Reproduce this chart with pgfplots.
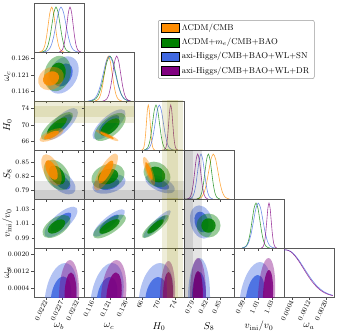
\documentclass[border=0pt]{standalone}
\usepackage{pgfplots}
\pgfplotsset{compat=1.18}
\definecolor{cor}{RGB}{255,140,0}
\definecolor{cgr}{RGB}{0,128,0}
\definecolor{cbl}{RGB}{65,105,225}
\definecolor{cpu}{RGB}{128,0,128}

\pgfplotsset{
  panel/.style={scale only axis, width=50pt, height=49pt, anchor=north west,
    scaled x ticks=false, scaled y ticks=false,
    axis line style={black!65, line width=0.5pt},
    xtick pos=bottom, ytick pos=left, tick align=outside, major tick length=2.5pt,
    tick style={black!70, line width=0.4pt},
    tick label style={font=\fontsize{6.8}{8}\selectfont},
    xticklabels={}, yticklabels={},
    xticklabel style={rotate=65, anchor=east, inner sep=1.5pt},
    yticklabel style={inner sep=2pt},
    label style={font=\fontsize{9.5}{11}\selectfont},
    every axis y label/.style={at={(axis description cs:-0.53,0.5)}, rotate=90, anchor=center},
    every axis x label/.style={at={(axis description cs:0.5,-0.6)}, anchor=center}},
  outer/.style={fill=#1, fill opacity=0.4, draw=none, smooth, tension=1},
  inner/.style={fill=#1, fill opacity=0.88, draw=none, smooth, tension=1},
  pdf/.style={draw=#1, line width=0.6pt, smooth, draw opacity=0.75},
  bando/.style={fill=olive, fill opacity=0.15, draw=none},
  bandg/.style={fill=black, fill opacity=0.1, draw=none},
  pdfy/.style={ymin=0, ymax=1.09, ytick=\empty},
  xv1/.style={xmin=0.0218, xmax=0.0234, xtick={0.0222,0.0227,0.0232}},
  xv2/.style={xmin=0.1132, xmax=0.1282, xtick={0.116,0.121,0.126}},
  xv3/.style={xmin=64, xmax=76, xtick={66,70,74}},
  xv4/.style={xmin=0.77, xmax=0.88, xtick={0.79,0.82,0.85}},
  xv5/.style={xmin=0.976, xmax=1.046, xtick={0.99,1.01,1.03}},
  xv6/.style={xmin=0, xmax=0.00235, xtick={0.0004,0.0012,0.0020}},
  yv2/.style={ymin=0.1132, ymax=0.1279, ytick={0.116,0.121,0.126}},
  yv3/.style={ymin=64, ymax=75.76, ytick={66,70,74}},
  yv4/.style={ymin=0.77, ymax=0.8778, ytick={0.79,0.82,0.85}},
  yv5/.style={ymin=0.976, ymax=1.0446, ytick={0.99,1.01,1.03}},
  yv6/.style={ymin=0, ymax=0.002303, ytick={0.0004,0.0012,0.0020}},
  xl1/.style={xticklabels={0.0222,0.0227,0.0232}, xlabel={$\omega_b$}},
  xl2/.style={xticklabels={0.116,0.121,0.126}, xlabel={$\omega_c$}},
  xl3/.style={xticklabels={66,70,74}, xlabel={$H_0$}},
  xl4/.style={xticklabels={0.79,0.82,0.85}, xlabel={$S_8$}},
  xl5/.style={xticklabels={0.99,1.01,1.03}, xlabel={$v_{\mathrm{ini}}/v_0$}},
  xl6/.style={xticklabels={0.0004,0.0012,0.0020}, xlabel={$\omega_a$}},
  yl2/.style={yticklabels={0.116,0.121,0.126}, ylabel={$\omega_c$}},
  yl3/.style={yticklabels={66,70,74}, ylabel={$H_0$}},
  yl4/.style={yticklabels={0.79,0.82,0.85}, ylabel={$S_8$}},
  yl5/.style={yticklabels={0.99,1.01,1.03}, ylabel={$v_{\mathrm{ini}}/v_0$}},
  yl6/.style={yticklabels={0.0004,0.0012,0.0020}, ylabel={$\omega_a$}},
}

\begin{document}
\begin{tikzpicture}
% ---------- row 1 : omega_b
\begin{axis}[panel, at={(0pt,0pt)}, xv1, pdfy,
  legend style={at={(axis description cs:2.48,0.653)}, anchor=north west,
    draw=black!40, line width=0.5pt, rounded corners=2pt, fill=white,
    font=\fontsize{8.5}{10}\selectfont, inner xsep=3pt, inner ysep=2pt, row sep=2.3pt,
    /tikz/every even column/.append style={column sep=6pt}},
  legend cell align=left,
  legend image code/.code={\fill[#1, sharp corners] (0pt,-4.5pt) rectangle (18pt,4.5pt);}]
\addplot[pdf=cor, forget plot] coordinates {(0.021974,0.0022)(0.022030,0.0111)(0.022086,0.0439)(0.022142,0.1353)(0.022198,0.3247)(0.022254,0.6065)(0.022310,0.8825)(0.022366,1)(0.022422,0.8825)(0.022478,0.6065)(0.022534,0.3247)(0.022590,0.1353)(0.022646,0.0439)(0.022702,0.0111)(0.022758,0.0022)};
\addplot[pdf=cgr, forget plot] coordinates {(0.022046,0.0022)(0.022111,0.0111)(0.022177,0.0439)(0.022242,0.1353)(0.022308,0.3247)(0.022373,0.6065)(0.022439,0.8825)(0.022504,1)(0.022570,0.8825)(0.022635,0.6065)(0.022701,0.3247)(0.022766,0.1353)(0.022832,0.0439)(0.022897,0.0111)(0.022963,0.0022)};
\addplot[pdf=cbl, forget plot] coordinates {(0.022104,0.0022)(0.022184,0.0111)(0.022264,0.0439)(0.022344,0.1353)(0.022424,0.3247)(0.022504,0.6065)(0.022584,0.8825)(0.022664,1)(0.022744,0.8825)(0.022824,0.6065)(0.022904,0.3247)(0.022984,0.1353)(0.023064,0.0439)(0.023144,0.0111)(0.023224,0.0022)};
\addplot[pdf=cpu, forget plot] coordinates {(0.022602,0.0022)(0.022652,0.0111)(0.022702,0.0439)(0.022752,0.1353)(0.022802,0.3247)(0.022852,0.6065)(0.022902,0.8825)(0.022952,1)(0.023002,0.8825)(0.023052,0.6065)(0.023102,0.3247)(0.023152,0.1353)(0.023202,0.0439)(0.023252,0.0111)(0.023302,0.0022)};
\addlegendimage{fill=cor}
\addlegendentry{$\Lambda$CDM/CMB}
\addlegendimage{fill=cgr}
\addlegendentry{$\Lambda$CDM+$m_e$/CMB+BAO}
\addlegendimage{fill=cbl}
\addlegendentry{axi-Higgs/CMB+BAO+WL+SN}
\addlegendimage{fill=cpu}
\addlegendentry{axi-Higgs/CMB+BAO+WL+DR}
\end{axis}

% ---------- row 2 : omega_c
\begin{axis}[panel, at={(0pt,-49pt)}, xv1, yv2, yl2]
\addplot[outer=cbl] coordinates {(0.023208,0.1210)(0.022879,0.12660)(0.022248,0.1210)(0.022577,0.11540)(0.023208,0.1210)(0.022879,0.12660)(0.022248,0.1210)};
\addplot[inner=cbl] coordinates {(0.023025,0.1210)(0.022822,0.12447)(0.022431,0.1210)(0.022634,0.11753)(0.023025,0.1210)(0.022822,0.12447)(0.022431,0.1210)};
\addplot[outer=cgr] coordinates {(0.022975,0.12145)(0.022622,0.12676)(0.022129,0.12145)(0.022482,0.11614)(0.022975,0.12145)(0.022622,0.12676)(0.022129,0.12145)};
\addplot[inner=cgr] coordinates {(0.022814,0.12145)(0.022596,0.12474)(0.02229,0.12145)(0.022508,0.11816)(0.022814,0.12145)(0.022596,0.12474)(0.02229,0.12145)};
\addplot[outer=cor] coordinates {(0.022751,0.11995)(0.022417,0.12345)(0.021937,0.11995)(0.022271,0.11645)(0.022751,0.11995)(0.022417,0.12345)(0.021937,0.11995)};
\addplot[inner=cor] coordinates {(0.022596,0.11995)(0.022389,0.12212)(0.022092,0.11995)(0.022299,0.11778)(0.022596,0.11995)(0.022389,0.12212)(0.022092,0.11995)};
\end{axis}
\begin{axis}[panel, at={(50pt,-49pt)}, xv2, pdfy]
\addplot[pdf=cor] coordinates {(0.11640,0.0022)(0.11698,0.0111)(0.11757,0.0439)(0.11815,0.1353)(0.11874,0.3247)(0.11932,0.6065)(0.11991,0.8825)(0.12049,1)(0.12108,0.8825)(0.12166,0.6065)(0.12225,0.3247)(0.12283,0.1353)(0.12342,0.0439)(0.12400,0.0111)(0.12459,0.0022)};
\addplot[pdf=cgr] coordinates {(0.11491,0.0022)(0.11578,0.0111)(0.11665,0.0439)(0.11752,0.1353)(0.11839,0.3247)(0.11926,0.6065)(0.12013,0.8825)(0.12100,1)(0.12187,0.8825)(0.12274,0.6065)(0.12361,0.3247)(0.12448,0.1353)(0.12535,0.0439)(0.12622,0.0111)(0.12709,0.0022)};
\addplot[pdf=cbl] coordinates {(0.11439,0.0022)(0.11530,0.0111)(0.11622,0.0439)(0.11713,0.1353)(0.11805,0.3247)(0.11896,0.6065)(0.11988,0.8825)(0.12079,1)(0.12171,0.8825)(0.12262,0.6065)(0.12354,0.3247)(0.12445,0.1353)(0.12537,0.0439)(0.12628,0.0111)(0.12720,0.0022)};
\addplot[pdf=cpu] coordinates {(0.11881,0.0022)(0.11941,0.0111)(0.12001,0.0439)(0.12061,0.1353)(0.12121,0.3247)(0.12181,0.6065)(0.12241,0.8825)(0.12301,1)(0.12361,0.8825)(0.12421,0.6065)(0.12481,0.3247)(0.12541,0.1353)(0.12601,0.0439)(0.12661,0.0111)(0.12721,0.0022)};
\end{axis}

% ---------- row 3 : H0
\begin{axis}[panel, at={(0pt,-98pt)}, xv1, yv3, yl3]
\addplot[outer=cbl] coordinates {(0.023034,70.24)(0.023076,74.05)(0.022358,70.24)(0.022316,66.43)(0.023034,70.24)(0.023076,74.05)(0.022358,70.24)};
\addplot[inner=cbl] coordinates {(0.022906,70.24)(0.022931,72.60)(0.022486,70.24)(0.022461,67.88)(0.022906,70.24)(0.022931,72.60)(0.022486,70.24)};
\addplot[outer=cgr] coordinates {(0.022858,69.76)(0.022933,73.10)(0.022214,69.76)(0.022139,66.42)(0.022858,69.76)(0.022933,73.10)(0.022214,69.76)};
\addplot[inner=cgr] coordinates {(0.022735,69.76)(0.022782,71.83)(0.022337,69.76)(0.02229,67.69)(0.022735,69.76)(0.022782,71.83)(0.022337,69.76)};
\addplot[outer=cor] coordinates {(0.022634,67.60)(0.022627,69.24)(0.022086,67.60)(0.022093,65.96)(0.022634,67.60)(0.022627,69.24)(0.022086,67.60)};
\addplot[inner=cor] coordinates {(0.02253,67.60)(0.022525,68.62)(0.02219,67.60)(0.022195,66.58)(0.02253,67.60)(0.022525,68.62)(0.02219,67.60)};
\addplot[bando] coordinates {(0.021,70.6)(0.024,70.6)(0.024,75.8)(0.021,75.8)};
\addplot[bando] coordinates {(0.021,71.9)(0.024,71.9)(0.024,74.5)(0.021,74.5)};
\end{axis}
\begin{axis}[panel, at={(50pt,-98pt)}, xv2, yv3]
\addplot[outer=cbl] coordinates {(0.12400,70.12)(0.12438,73.78)(0.11740,70.12)(0.11702,66.46)(0.12400,70.12)(0.12438,73.78)(0.11740,70.12)};
\addplot[inner=cbl] coordinates {(0.12275,70.12)(0.12298,72.39)(0.11865,70.12)(0.11842,67.85)(0.12275,70.12)(0.12298,72.39)(0.11865,70.12)};
\addplot[outer=cgr] coordinates {(0.12466,69.52)(0.12395,72.88)(0.11734,69.52)(0.11805,66.16)(0.12466,69.52)(0.12395,72.88)(0.11734,69.52)};
\addplot[inner=cgr] coordinates {(0.12327,69.52)(0.12283,71.61)(0.11873,69.52)(0.11917,67.43)(0.12327,69.52)(0.12283,71.61)(0.11873,69.52)};
\addplot[outer=cor] coordinates {(0.12144,67.48)(0.11697,68.82)(0.11876,67.48)(0.12323,66.14)(0.12144,67.48)(0.11697,68.82)(0.11876,67.48)};
\addplot[inner=cor] coordinates {(0.12093,67.48)(0.11816,68.31)(0.11927,67.48)(0.12204,66.65)(0.12093,67.48)(0.11816,68.31)(0.11927,67.48)};
\addplot[bando] coordinates {(0.11,70.6)(0.13,70.6)(0.13,75.8)(0.11,75.8)};
\addplot[bando] coordinates {(0.11,71.9)(0.13,71.9)(0.13,74.5)(0.11,74.5)};
\end{axis}
\begin{axis}[panel, at={(100pt,-98pt)}, xv3, pdfy]
\addplot[pdf=cor] coordinates {(65.855,0.0022)(66.08,0.0111)(66.305,0.0439)(66.53,0.1353)(66.755,0.3247)(66.98,0.6065)(67.205,0.8825)(67.43,1)(67.655,0.8825)(67.88,0.6065)(68.105,0.3247)(68.33,0.1353)(68.555,0.0439)(68.78,0.0111)(69.005,0.0022)};
\addplot[pdf=cgr] coordinates {(66.41,0.0022)(66.82,0.0111)(67.23,0.0439)(67.64,0.1353)(68.05,0.3247)(68.46,0.6065)(68.87,0.8825)(69.28,1)(69.69,0.8825)(70.10,0.6065)(70.51,0.3247)(70.92,0.1353)(71.33,0.0439)(71.74,0.0111)(72.15,0.0022)};
\addplot[pdf=cbl] coordinates {(66.64,0.0022)(67.13,0.0111)(67.62,0.0439)(68.11,0.1353)(68.60,0.3247)(69.09,0.6065)(69.58,0.8825)(70.07,1)(70.56,0.8825)(71.05,0.6065)(71.54,0.3247)(72.03,0.1353)(72.52,0.0439)(73.01,0.0111)(73.50,0.0022)};
\addplot[pdf=cpu] coordinates {(71.13,0.0022)(71.37,0.0111)(71.61,0.0439)(71.85,0.1353)(72.09,0.3247)(72.33,0.6065)(72.57,0.8825)(72.81,1)(73.05,0.8825)(73.29,0.6065)(73.53,0.3247)(73.77,0.1353)(74.01,0.0439)(74.25,0.0111)(74.49,0.0022)};
\addplot[bando] coordinates {(70.6,-0.1)(75.8,-0.1)(75.8,1.2)(70.6,1.2)};
\addplot[bando] coordinates {(71.9,-0.1)(74.5,-0.1)(74.5,1.2)(71.9,1.2)};
\end{axis}

% ---------- row 4 : S8
\begin{axis}[panel, at={(0pt,-147pt)}, xv1, yv4, yl4]
\addplot[outer=cbl] coordinates {(0.023068,0.8074)(0.022473,0.8346)(0.022324,0.8074)(0.022919,0.7802)(0.023068,0.8074)(0.022473,0.8346)(0.022324,0.8074)};
\addplot[inner=cbl] coordinates {(0.022927,0.8074)(0.022558,0.8243)(0.022465,0.8074)(0.022834,0.7905)(0.022927,0.8074)(0.022558,0.8243)(0.022465,0.8074)};
\addplot[outer=cgr] coordinates {(0.022927,0.8228)(0.022371,0.8564)(0.022145,0.8228)(0.022701,0.7892)(0.022927,0.8228)(0.022371,0.8564)(0.022145,0.8228)};
\addplot[inner=cgr] coordinates {(0.022779,0.8228)(0.022434,0.8437)(0.022293,0.8228)(0.022638,0.8019)(0.022779,0.8228)(0.022434,0.8437)(0.022293,0.8228)};
\addplot[outer=cor] coordinates {(0.022636,0.8338)(0.022185,0.8685)(0.022084,0.8338)(0.022535,0.7991)(0.022636,0.8338)(0.022185,0.8685)(0.022084,0.8338)};
\addplot[inner=cor] coordinates {(0.022531,0.8338)(0.022252,0.8553)(0.022189,0.8338)(0.022468,0.8123)(0.022531,0.8338)(0.022252,0.8553)(0.022189,0.8338)};
\addplot[bandg] coordinates {(0.021,0.722)(0.024,0.722)(0.024,0.810)(0.021,0.810)};
\addplot[bandg] coordinates {(0.021,0.742)(0.024,0.742)(0.024,0.790)(0.021,0.790)};
\end{axis}
\begin{axis}[panel, at={(50pt,-147pt)}, xv2, yv4]
\addplot[outer=cbl] coordinates {(0.12541,0.8030)(0.12230,0.8245)(0.11599,0.8030)(0.11910,0.7816)(0.12541,0.8030)(0.12230,0.8245)(0.11599,0.8030)};
\addplot[inner=cbl] coordinates {(0.12362,0.8030)(0.12169,0.8163)(0.11778,0.8030)(0.11971,0.7897)(0.12362,0.8030)(0.12169,0.8163)(0.11778,0.8030)};
\addplot[outer=cgr] coordinates {(0.12522,0.8195)(0.12150,0.8474)(0.11558,0.8195)(0.11930,0.7916)(0.12522,0.8195)(0.12150,0.8474)(0.11558,0.8195)};
\addplot[inner=cgr] coordinates {(0.12339,0.8195)(0.12108,0.8368)(0.11741,0.8195)(0.11972,0.8022)(0.12339,0.8195)(0.12108,0.8368)(0.11741,0.8195)};
\addplot[outer=cor] coordinates {(0.12202,0.8294)(0.12261,0.8700)(0.11758,0.8294)(0.11700,0.7888)(0.12202,0.8294)(0.12261,0.8700)(0.11758,0.8294)};
\addplot[inner=cor] coordinates {(0.12117,0.8294)(0.12154,0.8546)(0.11843,0.8294)(0.11806,0.8042)(0.12117,0.8294)(0.12154,0.8546)(0.11843,0.8294)};
\addplot[bandg] coordinates {(0.11,0.722)(0.13,0.722)(0.13,0.810)(0.11,0.810)};
\addplot[bandg] coordinates {(0.11,0.742)(0.13,0.742)(0.13,0.790)(0.11,0.790)};
\end{axis}
\begin{axis}[panel, at={(100pt,-147pt)}, xv3, yv4]
\addplot[outer=cbl] coordinates {(73.14,0.8030)(68.19,0.8234)(67.34,0.8030)(72.29,0.7826)(73.14,0.8030)(68.19,0.8234)(67.34,0.8030)};
\addplot[inner=cbl] coordinates {(72.04,0.8030)(68.97,0.8157)(68.44,0.8030)(71.51,0.7904)(72.04,0.8030)(68.97,0.8157)(68.44,0.8030)};
\addplot[outer=cgr] coordinates {(72.64,0.8239)(68.80,0.8521)(66.40,0.8239)(70.24,0.7957)(72.64,0.8239)(68.80,0.8521)(66.40,0.8239)};
\addplot[inner=cgr] coordinates {(71.46,0.8239)(69.07,0.8414)(67.58,0.8239)(69.97,0.8064)(71.46,0.8239)(69.07,0.8414)(67.58,0.8239)};
\addplot[outer=cor] coordinates {(68.49,0.8316)(66.44,0.8627)(66.71,0.8316)(68.76,0.8005)(68.49,0.8316)(66.44,0.8627)(66.71,0.8316)};
\addplot[inner=cor] coordinates {(68.15,0.8316)(66.88,0.8509)(67.05,0.8316)(68.32,0.8123)(68.15,0.8316)(66.88,0.8509)(67.05,0.8316)};
\addplot[bandg] coordinates {(60,0.722)(80,0.722)(80,0.810)(60,0.810)};
\addplot[bandg] coordinates {(60,0.742)(80,0.742)(80,0.790)(60,0.790)};
\addplot[bando] coordinates {(70.6,0.7)(75.8,0.7)(75.8,0.9)(70.6,0.9)};
\addplot[bando] coordinates {(71.9,0.7)(74.5,0.7)(74.5,0.9)(71.9,0.9)};
\end{axis}
\begin{axis}[panel, at={(150pt,-147pt)}, xv4, pdfy]
\addplot[pdf=cor] coordinates {(0.79845,0.0022)(0.8036,0.0111)(0.80875,0.0439)(0.8139,0.1353)(0.81905,0.3247)(0.8242,0.6065)(0.82935,0.8825)(0.8345,1)(0.83965,0.8825)(0.8448,0.6065)(0.84995,0.3247)(0.8551,0.1353)(0.86025,0.0439)(0.8654,0.0111)(0.87055,0.0022)};
\addplot[pdf=cgr] coordinates {(0.79795,0.0022)(0.8016,0.0111)(0.80525,0.0439)(0.8089,0.1353)(0.81255,0.3247)(0.8162,0.6065)(0.81985,0.8825)(0.8235,1)(0.82715,0.8825)(0.8308,0.6065)(0.83445,0.3247)(0.8381,0.1353)(0.84175,0.0439)(0.8454,0.0111)(0.84905,0.0022)};
\addplot[pdf=cbl] coordinates {(0.78115,0.0022)(0.7849,0.0111)(0.78865,0.0439)(0.7924,0.1353)(0.79615,0.3247)(0.7999,0.6065)(0.80365,0.8825)(0.8074,1)(0.81115,0.8825)(0.8149,0.6065)(0.81865,0.3247)(0.8224,0.1353)(0.82615,0.0439)(0.8299,0.0111)(0.83365,0.0022)};
\addplot[pdf=cpu] coordinates {(0.7770,0.0022)(0.7803,0.0111)(0.7836,0.0439)(0.7869,0.1353)(0.7902,0.3247)(0.7935,0.6065)(0.7968,0.8825)(0.8001,1)(0.8034,0.8825)(0.8067,0.6065)(0.8100,0.3247)(0.8133,0.1353)(0.8166,0.0439)(0.8199,0.0111)(0.8232,0.0022)};
\addplot[bandg] coordinates {(0.722,-0.1)(0.810,-0.1)(0.810,1.2)(0.722,1.2)};
\addplot[bandg] coordinates {(0.742,-0.1)(0.790,-0.1)(0.790,1.2)(0.742,1.2)};
\end{axis}

% ---------- row 5 : v_ini/v_0
\begin{axis}[panel, at={(0pt,-196pt)}, xv1, yv5, yl5]
\addplot[outer=cbl] coordinates {(0.023016,1.0124)(0.023057,1.0338)(0.022312,1.0124)(0.022271,0.9910)(0.023016,1.0124)(0.023057,1.0338)(0.022312,1.0124)};
\addplot[inner=cbl] coordinates {(0.022883,1.0124)(0.022908,1.0256)(0.022445,1.0124)(0.02242,0.9992)(0.022883,1.0124)(0.022908,1.0256)(0.022445,1.0124)};
\addplot[outer=cgr] coordinates {(0.022898,1.0061)(0.02276,1.0222)(0.022142,1.0061)(0.02228,0.9900)(0.022898,1.0061)(0.02276,1.0222)(0.022142,1.0061)};
\addplot[inner=cgr] coordinates {(0.022754,1.0061)(0.022669,1.0161)(0.022286,1.0061)(0.022371,0.9961)(0.022754,1.0061)(0.022669,1.0161)(0.022286,1.0061)};
\end{axis}
\begin{axis}[panel, at={(50pt,-196pt)}, xv2, yv5]
\addplot[outer=cbl] coordinates {(0.12334,1.0110)(0.12464,1.0301)(0.11806,1.0110)(0.11676,0.9919)(0.12334,1.0110)(0.12464,1.0301)(0.11806,1.0110)};
\addplot[inner=cbl] coordinates {(0.12234,1.0110)(0.12314,1.0228)(0.11907,1.0110)(0.11826,0.9992)(0.12234,1.0110)(0.12314,1.0228)(0.11907,1.0110)};
\addplot[outer=cgr] coordinates {(0.12420,1.0061)(0.12444,1.0228)(0.11750,1.0061)(0.11726,0.9894)(0.12420,1.0061)(0.12444,1.0228)(0.11750,1.0061)};
\addplot[inner=cgr] coordinates {(0.12293,1.0061)(0.12308,1.0164)(0.11877,1.0061)(0.11862,0.9958)(0.12293,1.0061)(0.12308,1.0164)(0.11877,1.0061)};
\end{axis}
\begin{axis}[panel, at={(100pt,-196pt)}, xv3, yv5]
\addplot[outer=cbl] coordinates {(70.85,1.0096)(72.53,1.0288)(68.19,1.0096)(66.51,0.9904)(70.85,1.0096)(72.53,1.0288)(68.19,1.0096)};
\addplot[inner=cbl] coordinates {(70.34,1.0096)(71.39,1.0215)(68.70,1.0096)(67.65,0.9977)(70.34,1.0096)(71.39,1.0215)(68.70,1.0096)};
\addplot[outer=cgr] coordinates {(70.92,1.0061)(71.86,1.0223)(67.40,1.0061)(66.46,0.9899)(70.92,1.0061)(71.86,1.0223)(67.40,1.0061)};
\addplot[inner=cgr] coordinates {(70.25,1.0061)(70.83,1.0162)(68.07,1.0061)(67.49,0.9960)(70.25,1.0061)(70.83,1.0162)(68.07,1.0061)};
\addplot[bando] coordinates {(70.6,0.9)(75.8,0.9)(75.8,1.1)(70.6,1.1)};
\addplot[bando] coordinates {(71.9,0.9)(74.5,0.9)(74.5,1.1)(71.9,1.1)};
\end{axis}
\begin{axis}[panel, at={(150pt,-196pt)}, xv4, yv5]
\addplot[outer=cbl] coordinates {(0.8332,1.0124)(0.8030,1.0357)(0.7838,1.0124)(0.8140,0.9891)(0.8332,1.0124)(0.8030,1.0357)(0.7838,1.0124)};
\addplot[inner=cbl] coordinates {(0.8238,1.0124)(0.8051,1.0269)(0.7932,1.0124)(0.8119,0.9979)(0.8238,1.0124)(0.8051,1.0269)(0.7932,1.0124)};
\addplot[outer=cgr] coordinates {(0.8503,1.0075)(0.8239,1.0243)(0.7975,1.0075)(0.8239,0.9907)(0.8503,1.0075)(0.8239,1.0243)(0.7975,1.0075)};
\addplot[inner=cgr] coordinates {(0.8397,1.0075)(0.8239,1.0176)(0.8081,1.0075)(0.8239,0.9974)(0.8397,1.0075)(0.8239,1.0176)(0.8081,1.0075)};
\addplot[bandg] coordinates {(0.722,0.9)(0.810,0.9)(0.810,1.1)(0.722,1.1)};
\addplot[bandg] coordinates {(0.742,0.9)(0.790,0.9)(0.790,1.1)(0.742,1.1)};
\end{axis}
\begin{axis}[panel, at={(200pt,-196pt)}, xv5, pdfy]
\addplot[pdf=cgr] coordinates {(0.98755,0.0022)(0.9903,0.0111)(0.99305,0.0439)(0.9958,0.1353)(0.99855,0.3247)(1.0013,0.6065)(1.00405,0.8825)(1.0068,1)(1.00955,0.8825)(1.0123,0.6065)(1.01505,0.3247)(1.0178,0.1353)(1.02055,0.0439)(1.0233,0.0111)(1.02605,0.0022)};
\addplot[pdf=cbl] coordinates {(0.9869,0.0022)(0.9902,0.0111)(0.9935,0.0439)(0.9968,0.1353)(1.0001,0.3247)(1.0034,0.6065)(1.0067,0.8825)(1.0100,1)(1.0133,0.8825)(1.0166,0.6065)(1.0199,0.3247)(1.0232,0.1353)(1.0265,0.0439)(1.0298,0.0111)(1.0331,0.0022)};
\addplot[pdf=cpu] coordinates {(1.01415,0.0022)(1.0157,0.0111)(1.01725,0.0439)(1.0188,0.1353)(1.02035,0.3247)(1.0219,0.6065)(1.02345,0.8825)(1.0250,1)(1.02655,0.8825)(1.0281,0.6065)(1.02965,0.3247)(1.0312,0.1353)(1.03275,0.0439)(1.0343,0.0111)(1.03585,0.0022)};
\end{axis}

% ---------- row 6 : omega_a
\begin{axis}[panel, at={(0pt,-245pt)}, xv1, yv6, yl6, xl1]
\addplot[outer=cbl] coordinates {(0.023176,0)(0.022792,0.001598)(0.022152,0)(0.022536,-0.001598)(0.023176,0)(0.022792,0.001598)(0.022152,0)};
\addplot[inner=cbl] coordinates {(0.022984,0)(0.022744,0.000964)(0.022344,0)(0.022584,-0.000964)(0.022984,0)(0.022744,0.000964)(0.022344,0)};
\addplot[outer=cpu] coordinates {(0.02324,0.000094)(0.022952,0.001739)(0.0226,0.000094)(0.022888,-0.001551)(0.02324,0.000094)(0.022952,0.001739)(0.0226,0.000094)};
\addplot[inner=cpu] coordinates {(0.02316,0.000094)(0.022984,0.001152)(0.022776,0.000094)(0.022952,-0.000964)(0.02316,0.000094)(0.022984,0.001152)(0.022776,0.000094)};
\end{axis}
\begin{axis}[panel, at={(50pt,-245pt)}, xv2, yv6, xl2]
\addplot[outer=cbl] coordinates {(0.1249,0)(0.1216,0.001598)(0.1153,0)(0.1186,-0.001598)(0.1249,0)(0.1216,0.001598)(0.1153,0)};
\addplot[inner=cbl] coordinates {(0.1231,0)(0.1210,0.00094)(0.1171,0)(0.1192,-0.00094)(0.1231,0)(0.1210,0.00094)(0.1171,0)};
\addplot[outer=cpu] coordinates {(0.1258,0.000094)(0.12295,0.001739)(0.1183,0.000094)(0.12115,-0.001551)(0.1258,0.000094)(0.12295,0.001739)(0.1183,0.000094)};
\addplot[inner=cpu] coordinates {(0.12445,0.000094)(0.1228,0.001152)(0.11995,0.000094)(0.1216,-0.000964)(0.12445,0.000094)(0.1228,0.001152)(0.11995,0.000094)};
\end{axis}
\begin{axis}[panel, at={(100pt,-245pt)}, xv3, yv6, xl3]
\addplot[outer=cbl] coordinates {(73.36,0)(70.24,0.001598)(65.20,0)(68.32,-0.001598)(73.36,0)(70.24,0.001598)(65.20,0)};
\addplot[inner=cbl] coordinates {(71.80,0)(69.88,0.00094)(66.76,0)(68.68,-0.00094)(71.80,0)(69.88,0.00094)(66.76,0)};
\addplot[outer=cpu] coordinates {(73.84,0.000094)(72.28,0.001692)(70.24,0.000094)(71.80,-0.001504)(73.84,0.000094)(72.28,0.001692)(70.24,0.000094)};
\addplot[inner=cpu] coordinates {(73.36,0.000094)(72.28,0.001175)(70.96,0.000094)(72.04,-0.000987)(73.36,0.000094)(72.28,0.001175)(70.96,0.000094)};
\addplot[bando] coordinates {(70.6,-0.001)(75.8,-0.001)(75.8,0.003)(70.6,0.003)};
\addplot[bando] coordinates {(71.9,-0.001)(74.5,-0.001)(74.5,0.003)(71.9,0.003)};
\end{axis}
\begin{axis}[panel, at={(150pt,-245pt)}, xv4, yv6, xl4]
\addplot[outer=cbl] coordinates {(0.8272,0)(0.8041,0.001833)(0.7788,0)(0.8019,-0.001833)(0.8272,0)(0.8041,0.001833)(0.7788,0)};
\addplot[inner=cbl] coordinates {(0.8184,0)(0.8037,0.001175)(0.7876,0)(0.8023,-0.001175)(0.8184,0)(0.8037,0.001175)(0.7876,0)};
\addplot[outer=cpu] coordinates {(0.8184,0.000094)(0.8008,0.001833)(0.7832,0.000094)(0.8008,-0.001645)(0.8184,0.000094)(0.8008,0.001833)(0.7832,0.000094)};
\addplot[inner=cpu] coordinates {(0.8118,0.000094)(0.8008,0.001222)(0.7898,0.000094)(0.8008,-0.001034)(0.8118,0.000094)(0.8008,0.001222)(0.7898,0.000094)};
\addplot[bandg] coordinates {(0.722,-0.001)(0.810,-0.001)(0.810,0.003)(0.722,0.003)};
\addplot[bandg] coordinates {(0.742,-0.001)(0.790,-0.001)(0.790,0.003)(0.742,0.003)};
\end{axis}
\begin{axis}[panel, at={(200pt,-245pt)}, xv5, yv6, xl5]
\addplot[outer=cbl] coordinates {(1.0264,0)(1.0124,0.001645)(0.9844,0)(0.9984,-0.001645)(1.0264,0)(1.0124,0.001645)(0.9844,0)};
\addplot[inner=cbl] coordinates {(1.0180,0)(1.0096,0.001034)(0.9928,0)(1.0012,-0.001034)(1.0180,0)(1.0096,0.001034)(0.9928,0)};
\addplot[outer=cpu] coordinates {(1.0334,0.000094)(1.0243,0.001833)(1.0096,0.000094)(1.0187,-0.001645)(1.0334,0.000094)(1.0243,0.001833)(1.0096,0.000094)};
\addplot[inner=cpu] coordinates {(1.0306,0.000094)(1.0250,0.001269)(1.0166,0.000094)(1.0222,-0.001081)(1.0306,0.000094)(1.0250,0.001269)(1.0166,0.000094)};
\end{axis}
\begin{axis}[panel, at={(250pt,-245pt)}, xv6, xl6, ymin=0, ymax=1.04, ytick=\empty]
\addplot[pdf=cbl] coordinates {(0,0.993)(0.0001,1)(0.0003,0.973)(0.0005,0.895)(0.0007,0.780)(0.0009,0.642)(0.0011,0.501)(0.0013,0.370)(0.0015,0.258)(0.0017,0.171)(0.0019,0.106)(0.0021,0.063)(0.0023,0.035)};
\addplot[pdf=cpu] coordinates {(0,0.995)(0.0001,1)(0.0003,0.966)(0.0005,0.880)(0.0007,0.757)(0.0009,0.614)(0.0011,0.470)(0.0013,0.339)(0.0015,0.232)(0.0017,0.149)(0.0019,0.090)(0.0021,0.052)(0.0023,0.028)};
\end{axis}
\pgfresetboundingbox
\path[use as bounding box] (-34pt,3pt) rectangle (303pt,-331pt);
\end{tikzpicture}
\end{document}
